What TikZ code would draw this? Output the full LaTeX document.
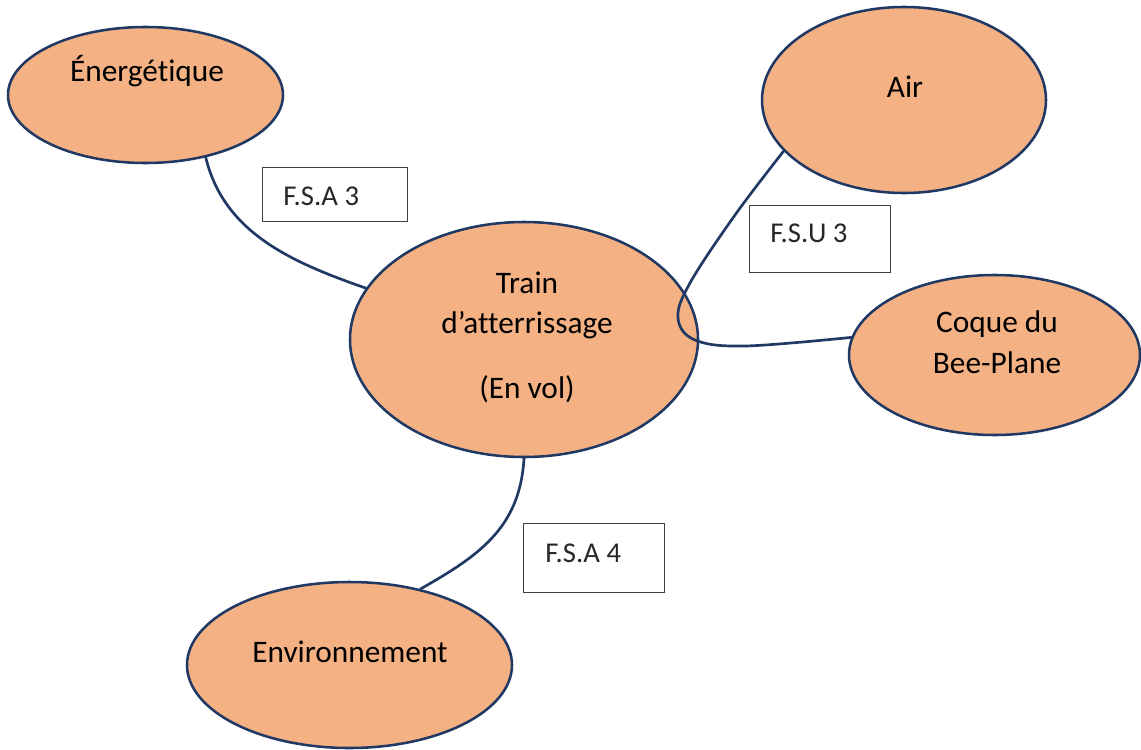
\documentclass[tikz,border=0pt]{standalone}
\usepackage{fontspec}
\setmainfont[Ligatures=NoCommon]{Carlito}
\usetikzlibrary{shapes.geometric}
\definecolor{peach}{HTML}{F4B183}
\definecolor{navy}{HTML}{203864}
\definecolor{boxline}{HTML}{404040}
\definecolor{boxtext}{HTML}{262626}
\begin{document}
\begin{tikzpicture}[x=0.75pt,y=-0.75pt,
  actor/.style 2 args={ellipse, draw=navy, line width=1.9pt, fill=peach,
    minimum width=#1*0.75pt, minimum height=#2*0.75pt, inner sep=0pt},
  big/.style={font=\fontsize{23.5}{27}\selectfont, anchor=base, inner sep=0pt},
  fnbox/.style 2 args={draw=boxline, line width=1.1pt, fill=white,
    minimum width=#1*0.75pt, minimum height=#2*0.75pt, anchor=north west, inner sep=0pt},
  ftxt/.style={font=\fontsize{21.5}{25}\selectfont, text=boxtext, anchor=base west, inner sep=0pt},
  link/.style={draw=navy, line width=2pt, line cap=round}]
\useasboundingbox (0,0) rectangle (1141,749);

% actors around the landing gear
\node[actor={275}{136}] (ener)  at (145.5,95)  {};
\node[actor={284}{186}] (air)   at (904,100)   {};
\node[actor={348}{235}] (train) at (524,339.5) {};
\node[actor={291}{160}] (coque) at (994.5,355) {};
\node[actor={325}{166}] (env)   at (349.5,665) {};

% function labels
\node[fnbox={145}{54}] (fsa3) at (262,167) {};
\node[fnbox={141}{67}] (fsu3) at (749,205) {};
\node[fnbox={141}{69}] (fsa4) at (523,523) {};
\node[ftxt] (tfsa3) at (283,205) {F.S.A 3};
\node[ftxt] (tfsu3) at (770,242) {F.S.U 3};
\node[ftxt] (tfsa4) at (545,562) {F.S.A 4};

% texts of the actors
\node[big] (tener)  at (147,82)  {Énergétique};
\node[big] (tair)   at (905,98)  {Air};
\node[big] (ttr1)   at (527,293) {Train};
\node[big] (ttr2)   at (527,333) {d’atterrissage};
\node[big] (ttr3)   at (527,398) {(En vol)};
\node[big] (tcoq1)  at (997,332) {Coque du};
\node[big] (tcoq2)  at (997,373) {Bee-Plane};
\node[big] (tenv)   at (350,662) {Environnement};

% connectors
\draw[link] (ener.-46) .. controls +(18,75) and +(-75,-26) .. (train.162);
\draw[link] (env.47) .. controls +(58,-33) and +(-4,70) .. (train.-90);
\draw[link] plot[smooth, tension=0.6] coordinates
  {(air.-157) (735,215) (690,283) (678,318) (695,340) (745,346) (coque.173)};
\end{tikzpicture}
\end{document}
